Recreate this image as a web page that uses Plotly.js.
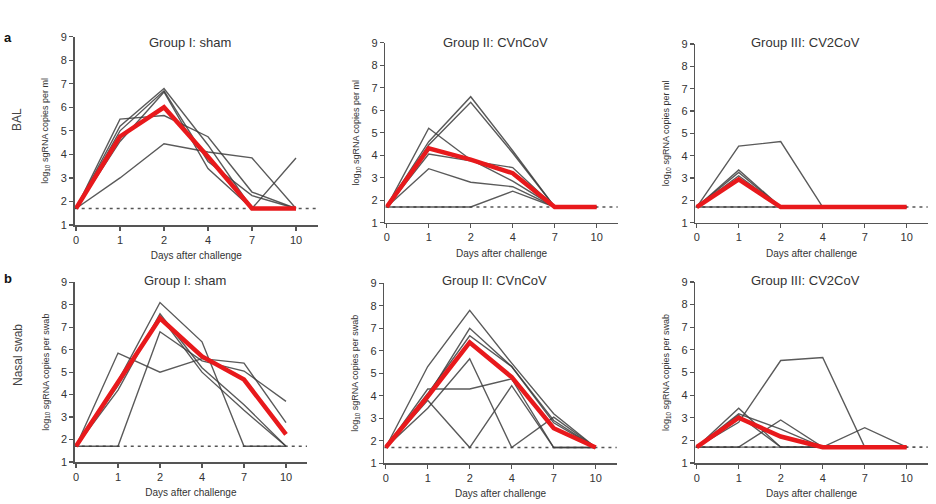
<!DOCTYPE html>
<html>
<head>
<meta charset="utf-8">
<script src="https://cdn.plot.ly/plotly-3.0.1.min.js"></script>
<style>html,body{margin:0;padding:0;background:#fff;}#chart{width:936px;height:504px;}</style>
</head>
<body>
<div id="chart"></div>
<script>
// ---- data ----
const days = ['0', '1', '2', '4', '7', '10'];
const yTicks = [1, 2, 3, 4, 5, 6, 7, 8, 9];
const LOD = 1.7;

const groupTitles = ['Group I: sham', 'Group II: CVnCoV', 'Group III: CV2CoV'];
const rowLabels = ['BAL', 'Nasal swab'];
const panelLetters = ['a', 'b'];
const yTitles = ['log<sub>10</sub> sgRNA copies per ml', 'log<sub>10</sub> sgRNA copies per swab'];
const xTitle = 'Days after challenge';

// BAL
const balShamAnimals = [
  [1.7, 3.0, 4.45, 4.1, 3.85, 1.7],
  [1.7, 5.5, 5.65, 4.75, 2.4, 1.7],
  [1.7, 5.2, 6.8, 4.4, 1.7, 3.85],
  [1.7, 4.55, 6.65, 3.4, 1.7, 1.7],
  [1.7, 5.0, 6.7, 3.7, 2.25, 1.7]
];
const balShamMean = [1.7, 4.76, 6.0, 3.9, 1.7, 1.7];

const balCVnAnimals = [
  [1.7, 4.6, 6.6, 4.2, 1.7, 1.7],
  [1.7, 4.45, 6.35, 4.1, 1.7, 1.7],
  [1.7, 5.2, 3.8, 2.85, 1.7, 1.7],
  [1.7, 4.05, 3.75, 3.45, 1.7, 1.7],
  [1.7, 3.4, 2.8, 2.6, 1.7, 1.7],
  [1.7, 1.7, 1.7, 2.4, 1.7, 1.7]
];
const balCVnMean = [1.7, 4.31, 3.8, 3.2, 1.7, 1.7];

const balCV2Animals = [
  [1.7, 4.43, 4.63, 1.7, 1.7, 1.7],
  [1.7, 3.36, 1.7, 1.7, 1.7, 1.7],
  [1.7, 3.25, 1.7, 1.7, 1.7, 1.7],
  [1.7, 3.1, 1.7, 1.7, 1.7, 1.7],
  [1.7, 1.7, 1.7, 1.7, 1.7, 1.7]
];
const balCV2Mean = [1.7, 2.94, 1.7, 1.7, 1.7, 1.7];

// Nasal swab
const nsShamAnimals = [
  [1.7, 5.85, 5.0, 5.6, 5.4, 2.75],
  [1.7, 1.7, 6.8, 5.5, 5.05, 3.7],
  [1.7, 4.6, 8.1, 6.35, 1.7, 1.7],
  [1.7, 4.2, 7.6, 5.2, 3.55, 1.7],
  [1.7, 4.4, 7.5, 5.0, 3.3, 1.7]
];
const nsShamMean = [1.7, 4.56, 7.4, 5.7, 4.67, 2.23];

const nsCVnAnimals = [
  [1.7, 5.3, 7.8, 5.45, 3.2, 1.7],
  [1.7, 4.3, 4.3, 4.75, 1.7, 1.7],
  [1.7, 3.8, 1.7, 4.45, 1.7, 1.7],
  [1.7, 3.45, 5.65, 1.7, 3.05, 1.7],
  [1.7, 4.0, 7.0, 5.3, 2.9, 1.7],
  [1.7, 4.1, 6.67, 5.3, 2.8, 1.7]
];
const nsCVnMean = [1.7, 3.97, 6.37, 4.83, 2.56, 1.7];

const nsCV2Animals = [
  [1.7, 2.8, 5.53, 5.66, 1.7, 1.7],
  [1.7, 1.7, 2.9, 1.7, 1.7, 1.7],
  [1.7, 3.42, 1.7, 1.7, 1.7, 1.7],
  [1.7, 3.17, 2.5, 1.7, 1.7, 1.7],
  [1.7, 1.7, 1.7, 1.7, 2.56, 1.7],
  [1.7, 3.1, 1.7, 1.7, 1.7, 1.7]
];
const nsCV2Mean = [1.7, 3.0, 2.17, 1.7, 1.7, 1.7];

const panelAnimals = [balShamAnimals, balCVnAnimals, balCV2Animals, nsShamAnimals, nsCVnAnimals, nsCV2Animals];
const panelMeans = [balShamMean, balCVnMean, balCV2Mean, nsShamMean, nsCVnMean, nsCV2Mean];

// ---- layout geometry (pixels) ----
const W = 936, H = 504;
// [x0 (day 0 px), spacing px, yTop (9) px, yBottom (1) px]
const geom = [
  [76, 44, 36.7, 225],
  [386.7, 42, 42.7, 222.7],
  [696.7, 42, 44, 222.7],
  [76, 42, 282.3, 462],
  [385.7, 42, 283.3, 463.3],
  [696.7, 42, 282, 463]
];
const xMin = -0.03, xMax = 5.5;

const font = 'Liberation Sans, Arial, Helvetica, sans-serif';
const greyLine = '#3d3d3d';
const red = '#e8191c';
const axisCol = '#555';

const traces = [];
const layout = {
  width: W, height: H,
  margin: {l: 0, r: 0, t: 0, b: 0},
  paper_bgcolor: '#fff', plot_bgcolor: '#fff',
  showlegend: false,
  font: {family: font, color: '#333'},
  shapes: [], annotations: []
};

geom.forEach((g, i) => {
  const n = i + 1;
  const xa = 'x' + (n === 1 ? '' : n), ya = 'y' + (n === 1 ? '' : n);
  const xKey = 'xaxis' + (n === 1 ? '' : n), yKey = 'yaxis' + (n === 1 ? '' : n);
  const [x0, s, yT, yB] = g;
  const row = i < 3 ? 0 : 1;
  layout[xKey] = {
    domain: [(x0 + xMin * s) / W, (x0 + xMax * s) / W],
    anchor: ya, type: 'category', categoryorder: 'array', categoryarray: days,
    range: [xMin, xMax], showgrid: false, zeroline: false,
    showline: true, linecolor: axisCol, linewidth: 1.5,
    ticks: 'outside', ticklen: 4, tickwidth: 1.2, tickcolor: axisCol,
    tickfont: {size: 11, color: '#333', family: font},
    title: {text: xTitle, font: {size: 10, color: '#333', family: font}, standoff: 7},
    fixedrange: true
  };
  layout[yKey] = {
    domain: [1 - yB / H, 1 - yT / H],
    anchor: xa, range: [1, 9], tickvals: yTicks, showgrid: false, zeroline: false,
    showline: true, linecolor: axisCol, linewidth: 1.5,
    ticks: 'outside', ticklen: 4, tickwidth: 1.2, tickcolor: axisCol,
    tickfont: {size: 11, color: '#333', family: font},
    title: {text: yTitles[row], font: {size: 9, color: '#333', family: font}, standoff: 10},
    fixedrange: true
  };
  // detection limit
  layout.shapes.push({
    type: 'line', xref: xa + ' domain', yref: ya, x0: 0, x1: 1, y0: LOD, y1: LOD,
    line: {color: '#555', width: 1.6, dash: '3px,4px'}, layer: 'below'
  });
  panelAnimals[i].forEach(v => {
    traces.push({
      type: 'scatter', mode: 'lines', x: days, y: v, xaxis: xa, yaxis: ya,
      line: {color: greyLine, width: 1.4}, opacity: 0.85, hoverinfo: 'skip'
    });
  });
  traces.push({
    type: 'scatter', mode: 'lines', x: days, y: panelMeans[i], xaxis: xa, yaxis: ya,
    line: {color: red, width: 4.5}, hoverinfo: 'skip'
  });
  // panel title
  layout.annotations.push({
    text: groupTitles[i % 3], xref: 'paper', yref: 'paper',
    x: (x0 + 2.6 * s) / W, y: 1 - (row === 0 ? 42 : 280) / H,
    xanchor: 'center', yanchor: 'middle', showarrow: false,
    font: {size: 13, color: '#333', family: font}
  });
});

// row labels and panel letters
layout.annotations.push(
  {text: rowLabels[0], xref: 'paper', yref: 'paper', x: 17 / W, y: 1 - 120 / H, textangle: -90,
   showarrow: false, xanchor: 'center', yanchor: 'middle', font: {size: 12, color: '#444', family: font}},
  {text: rowLabels[1], xref: 'paper', yref: 'paper', x: 18 / W, y: 1 - 355 / H, textangle: -90,
   showarrow: false, xanchor: 'center', yanchor: 'middle', font: {size: 12, color: '#444', family: font}},
  {text: '<b>' + panelLetters[0] + '</b>', xref: 'paper', yref: 'paper', x: 8 / W, y: 1 - 38 / H,
   showarrow: false, xanchor: 'center', yanchor: 'middle', font: {size: 13, color: '#111', family: font}},
  {text: '<b>' + panelLetters[1] + '</b>', xref: 'paper', yref: 'paper', x: 8 / W, y: 1 - 278 / H,
   showarrow: false, xanchor: 'center', yanchor: 'middle', font: {size: 13, color: '#111', family: font}}
);

Plotly.newPlot('chart', traces, layout, {displayModeBar: false, staticPlot: true});
</script>
</body>
</html>
